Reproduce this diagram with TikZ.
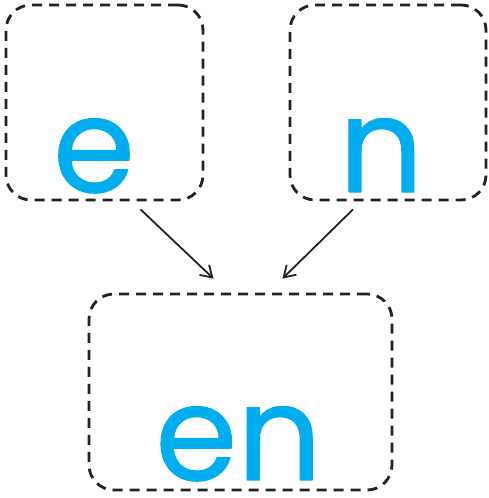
\documentclass[tikz,border=0pt]{standalone}
\usepackage{fontspec}
\setmainfont{Poppins}
\usetikzlibrary{arrows.meta}
\definecolor{letter}{HTML}{00AEEF}
\definecolor{ink}{HTML}{222222}
\newcommand\heavytext[1]{\special{pdf:literal 2 Tr 1.2 w 1 J 1 j}#1\special{pdf:literal 0 Tr}}
\tikzset{
  box/.style={draw=ink, line width=2.8pt, dash pattern=on 10pt off 7pt, rounded corners=25pt, inner sep=0pt},
  glyph/.style={text=letter, font=\fontsize{132}{132}\selectfont, anchor=base, inner sep=0pt, text depth=0pt},
  link/.style={draw=ink, line width=1.8pt, -{Straight Barb[length=11pt,width=14pt,line width=1.8pt]}}
}
\begin{document}
\begin{tikzpicture}[x=1pt,y=-1pt]
\useasboundingbox (0,0) rectangle (488,498);
\node[box, minimum width=197pt, minimum height=195pt] (b1) at (104.5,102.5) {};
\node[box, minimum width=196pt, minimum height=195pt] (b2) at (388,102.5) {};
\node[box, minimum width=303pt, minimum height=196pt] (b3) at (240.5,392) {};
\node[glyph] (t1) at (94,192) {\heavytext{e}};
\node[glyph] (t2) at (381,192) {\heavytext{n}};
\node[glyph] (t3) at (238.5,480) {\heavytext{en}};
\draw[link] ([xshift=36pt,yshift=-8pt]b1.south) -- ([xshift=-27pt,yshift=14pt]b3.north);
\draw[link] ([xshift=-35pt,yshift=-8pt]b2.south) -- ([xshift=42pt,yshift=14pt]b3.north);
\end{tikzpicture}
\end{document}
